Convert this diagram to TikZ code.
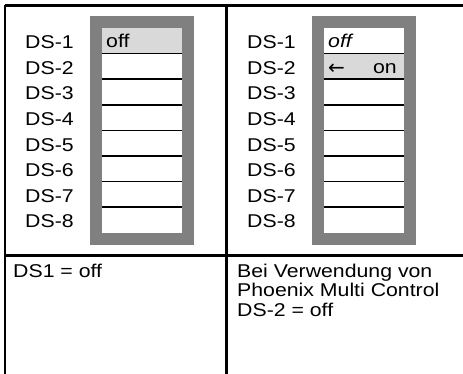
\documentclass[tikz,border=0pt]{standalone}
\usepackage{fontspec}
\setmainfont{Liberation Sans}[FakeStretch=1.15]
\newfontfamily\arrowfont{DejaVu Sans}
\definecolor{framegray}{HTML}{808080}
\definecolor{cellgray}{HTML}{D9D9D9}
\begin{document}
\begin{tikzpicture}[x=1pt,y=-1pt,
  rule/.style={line width=2.6pt},
  rowline/.style={line width=1.5pt},
  lbl/.style={anchor=base west,inner sep=0pt,font=\fontsize{18.5}{19.5}\selectfont},
  txt/.style={anchor=north west,inner sep=0pt,align=left,font=\fontsize{18.5}{19.5}\selectfont}]
\useasboundingbox (0,0) rectangle (463,374);
% table rules
\coordinate (tl) at (5,5.5);
\coordinate (tr) at (465,5.5);
\coordinate (bl) at (5,376);
\coordinate (mt) at (226.5,5.5);
\coordinate (mb) at (226.5,376);
\coordinate (hl) at (5,255.5);
\coordinate (hr) at (465,255.5);
\draw[rule] (tl) -- (tr);
\draw[rule] (tl) -- (bl);
\draw[rule] (mt) -- (mb);
\draw[rule] (hl) -- (hr);
% switch blocks
\foreach \px/\lx/\nm in {90/25/A, 312/247/B}{
  \fill[framegray] (\px,16) rectangle ++(104,229);
  \fill[white] (\px+12,28) rectangle ++(80,205);
  \foreach \k in {1,...,8}{
    \node[lbl] (\nm lab\k) at (\lx,{28+25.6*(\k-0.5)+8}) {DS-\k};
  }
}
\fill[cellgray] (102,28) rectangle (182,53.6);
\fill[cellgray] (324,53.6) rectangle (404,79.2);
\foreach \k in {1,...,7}{
  \draw[rowline] (102,{28+25.6*\k}) -- (182,{28+25.6*\k});
  \draw[rowline] (324,{28+25.6*\k}) -- (404,{28+25.6*\k});
}
\node[lbl] (offA) at (106,48) {off};
\node[lbl] (offB) at (328,47.5) {\itshape off};
\node[anchor=west,inner sep=0pt,font=\arrowfont\fontsize{20}{20}\selectfont] (arr) at (328,69.5) {←};
\node[lbl,anchor=base east] (onB) at (397,73.5) {on};
% notes
\node[txt] (noteA) at (13,263.5) {DS1 = off};
\node[txt] (noteB) at (237,263.5) {Bei Verwendung von\\Phoenix Multi Control\\DS-2 = off};
\end{tikzpicture}
\end{document}
